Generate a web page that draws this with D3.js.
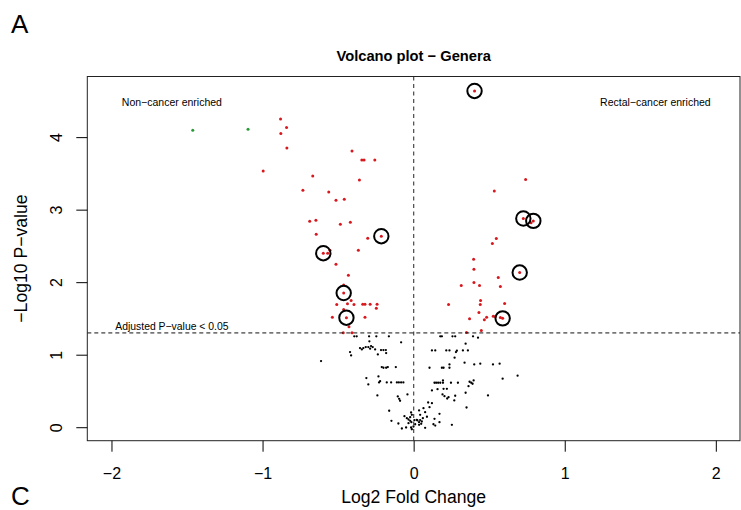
<!DOCTYPE html>
<html>
<head>
<meta charset="utf-8">
<script src="https://cdn.jsdelivr.net/npm/d3@7"></script>
<style>
  body { margin: 0; background: #fff; }
  svg { display: block; }
  text { font-family: "Liberation Sans", Arial, Helvetica, sans-serif; fill: #000; }
</style>
</head>
<body>
<svg id="chart" width="741" height="510"></svg>
<script>
// Genera that do not pass the adjusted threshold (log2 fold change, -log10 p)
const nsLfc = [
  -0.393,-0.377,-0.295,-0.247,-0.164,-0.293,-0.083,-0.355,-0.343,-0.333,
  -0.317,-0.300,-0.282,-0.271,-0.288,-0.255,-0.216,-0.200,-0.184,-0.237,
  -0.182,-0.421,-0.414,-0.613,-0.211,-0.200,-0.182,-0.171,-0.118,-0.313,
  -0.300,-0.233,-0.222,-0.229,-0.178,-0.149,-0.111,-0.098,-0.083,-0.068,
  -0.240,-0.105,-0.096,-0.090,-0.041,-0.162,-0.017,-0.012,-0.147,-0.101,
  -0.061,-0.045,-0.034,-0.023,-0.078,-0.050,-0.017,-0.001,0.010,0.025,0.036,
  0.176,0.187,0.257,0.275,0.393,0.426,0.344,0.121,0.143,0.216,
  0.237,0.286,0.280,0.326,0.359,0.271,0.337,0.105,0.187,0.198,
  0.237,0.237,0.401,0.441,0.525,0.569,0.589,0.688,0.138,0.149,
  0.162,0.176,0.194,0.194,0.247,0.293,0.370,0.381,0.397,0.390,
  0.363,0.121,0.158,0.198,0.220,0.344,0.492,0.191,0.204,0.231,
  0.222,0.275,0.269,0.121,0.105,0.096,0.065,0.076,0.036,0.043,
  0.171,0.350,0.088,0.021,0.054,0.061,0.043,0.036,0.050,0.131,
  0.143,0.138,0.171,0.253,-0.012,0.076,0.005,-0.023,-0.034,-0.015
];
const nsLogP = [
  1.253,1.253,1.253,1.253,1.253,1.184,1.170,1.091,1.073,1.091,
  1.105,1.105,1.119,1.105,1.083,1.073,1.064,1.064,1.064,1.004,
  1.022,1.036,0.990,0.912,0.829,0.820,0.820,0.829,0.829,0.677,
  0.590,0.700,0.635,0.617,0.617,0.617,0.617,0.617,0.617,0.617,
  0.438,0.424,0.392,0.365,0.452,0.227,0.203,0.171,0.088,0.051,
  0.152,0.124,0.106,0.088,-0.018,-0.004,-0.004,0.010,0.041,0.093,0.069,
  1.253,1.253,1.253,1.253,1.253,1.235,1.152,1.059,1.059,1.059,
  1.059,1.055,1.036,1.059,1.059,0.959,0.890,0.820,0.820,0.820,
  0.866,0.820,0.866,0.876,0.866,0.876,0.669,0.710,0.613,0.613,
  0.613,0.613,0.645,0.613,0.613,0.613,0.627,0.613,0.645,0.599,
  0.566,0.507,0.525,0.530,0.530,0.475,0.438,0.452,0.428,0.414,
  0.396,0.434,0.369,0.331,0.276,0.341,0.262,0.207,0.231,0.171,
  0.185,0.272,0.144,0.102,0.079,0.124,0.099,0.033,0.047,0.041,
  0.023,0.116,0.069,0.033,-0.028,-0.008,0.097,0.138,0.055,0.069
];

// Significant genera; sigCircled flags the ones singled out with a ring
const sigLfc = [
  -0.881,-0.841,-0.879,-0.839,-0.996,-0.668,-0.408,-0.343,-0.328,-0.257,
  -0.359,-0.733,-0.562,-0.514,-0.459,-0.688,-0.647,-0.485,-0.419,-0.645,
  -0.304,-0.214,-0.598,-0.569,-0.554,-0.366,-0.514,-0.432,-0.463,-0.463,
  -0.414,-0.509,-0.438,-0.395,-0.337,-0.322,-0.288,-0.242,-0.247,-0.463,
  -0.538,-0.445,-0.322,-0.428,-0.466,-0.408,
  0.403,0.741,0.534,0.726,0.792,0.777,0.547,0.521,0.397,0.399,
  0.702,0.560,0.315,0.399,0.436,0.574,0.443,0.441,0.231,0.602,
  0.432,0.370,0.483,0.468,0.527,0.540,0.574,0.589,0.448,0.350
];
const sigLogP = [
  4.250,4.133,4.050,3.849,3.532,3.463,3.808,3.683,3.683,3.683,
  3.408,3.269,3.242,3.131,3.145,2.841,2.855,2.800,2.827,2.662,
  2.606,2.634,2.399,2.399,2.441,2.441,2.247,2.095,1.961,1.850,
  1.746,1.691,1.702,1.691,1.695,1.695,1.695,1.695,1.640,1.622,
  1.515,1.510,1.515,1.384,1.304,1.304,
  4.637,3.417,3.256,2.878,2.845,2.818,2.602,2.533,2.316,2.178,
  2.133,2.065,1.954,1.994,1.954,1.941,1.747,1.692,1.692,1.706,
  1.581,1.497,1.515,1.483,1.529,1.526,1.512,1.501,1.333,1.305
];
const sigCircled = [
  0,0,0,0,0,0,0,0,0,0,
  0,0,0,0,0,0,0,0,0,0,
  0,1,1,0,0,0,0,0,0,1,
  0,0,0,0,0,0,0,0,0,0,
  0,1,0,0,0,0,
  1,0,0,1,1,0,0,0,0,0,
  1,0,0,0,0,0,0,0,0,0,
  0,0,0,0,0,0,0,1,0,0
];

// Strongly depleted genera
const depLfc = [-1.462, -1.096];
const depLogP = [4.094, 4.108];

const xTicks = [-2, -1, 0, 1, 2];
const yTicks = [0, 1, 2, 3, 4];
const pThreshold = 1.3;   // -log10(0.05)
const xLimit = [-2, 2];
const yLimit = [0, 4.65];

const svg = d3.select("#chart");
const plotLeft = 87.3, plotRight = 740, plotTop = 76.5, plotBottom = 440.7;

// R-style 4% padding around the limits
const padX = (xLimit[1] - xLimit[0]) * 0.04;
const padY = (yLimit[1] - yLimit[0]) * 0.04;
const x = d3.scaleLinear().domain([xLimit[0] - padX, xLimit[1] + padX]).range([plotLeft, plotRight]);
const y = d3.scaleLinear().domain([yLimit[0] - padY, yLimit[1] + padY]).range([plotBottom, plotTop]);

const toRows = (xs, ys) => xs.map((v, i) => ({ lfc: v, logp: ys[i] }));
const nsRows = toRows(nsLfc, nsLogP);
const sigRows = sigLfc.map((v, i) => ({ lfc: v, logp: sigLogP[i], ring: sigCircled[i] === 1 }));
const depRows = toRows(depLfc, depLogP);

const plot = svg.append("g");

// points
plot.selectAll("circle.ns").data(nsRows).join("circle")
  .attr("class", "ns")
  .attr("cx", d => x(d.lfc)).attr("cy", d => y(d.logp))
  .attr("r", 1.15).attr("fill", "#000");

plot.selectAll("circle.sig").data(sigRows).join("circle")
  .attr("class", "sig")
  .attr("cx", d => x(d.lfc)).attr("cy", d => y(d.logp))
  .attr("r", 1.5).attr("fill", "#d7191f");

plot.selectAll("circle.dep").data(depRows).join("circle")
  .attr("class", "dep")
  .attr("cx", d => x(d.lfc)).attr("cy", d => y(d.logp))
  .attr("r", 1.5).attr("fill", "#2a9a38");

// reference lines
plot.append("line")
  .attr("x1", x(0)).attr("x2", x(0))
  .attr("y1", plotTop).attr("y2", plotBottom)
  .attr("stroke", "#555").attr("stroke-width", 1.3)
  .attr("stroke-dasharray", "4,3.5");

plot.append("line")
  .attr("x1", plotLeft).attr("x2", plotRight)
  .attr("y1", y(pThreshold)).attr("y2", y(pThreshold))
  .attr("stroke", "#111").attr("stroke-width", 1)
  .attr("stroke-dasharray", "4,3");

// rings around highlighted genera
plot.selectAll("circle.ring").data(sigRows.filter(d => d.ring)).join("circle")
  .attr("class", "ring")
  .attr("cx", d => x(d.lfc)).attr("cy", d => y(d.logp))
  .attr("r", 7.2).attr("fill", "none")
  .attr("stroke", "#000").attr("stroke-width", 2);

// frame
svg.append("rect")
  .attr("x", plotLeft).attr("y", plotTop)
  .attr("width", plotRight - plotLeft).attr("height", plotBottom - plotTop)
  .attr("fill", "none").attr("stroke", "#222").attr("stroke-width", 1);

// axes
const fmt = d3.format("d");
const xAxis = svg.append("g")
  .attr("transform", `translate(0,${plotBottom})`)
  .call(d3.axisBottom(x).tickValues(xTicks).tickFormat(fmt).tickSize(11).tickSizeOuter(0).tickPadding(16));
xAxis.select(".domain").remove();
xAxis.selectAll(".tick line").attr("stroke", "#000");
xAxis.selectAll(".tick text")
  .attr("font-size", 16).attr("font-family", "Liberation Sans, Arial, sans-serif")
  .attr("fill", "#000");

const yAxis = svg.append("g")
  .attr("transform", `translate(${plotLeft},0)`)
  .call(d3.axisLeft(y).tickValues(yTicks).tickFormat(fmt).tickSize(11).tickSizeOuter(0));
yAxis.select(".domain").remove();
yAxis.selectAll(".tick line").attr("stroke", "#000");
yAxis.selectAll(".tick text")
  .attr("x", null).attr("dy", null)
  .attr("transform", "translate(-25,0) rotate(-90)")
  .attr("text-anchor", "middle")
  .attr("font-size", 16).attr("font-family", "Liberation Sans, Arial, sans-serif")
  .attr("fill", "#000");

// titles
svg.append("text")
  .attr("x", (plotLeft + plotRight) / 2).attr("y", 61)
  .attr("text-anchor", "middle").attr("font-size", 14.7).attr("font-weight", "bold")
  .text("Volcano plot \u2212 Genera");

svg.append("text")
  .attr("x", (plotLeft + plotRight) / 2).attr("y", 503)
  .attr("text-anchor", "middle").attr("font-size", 17.6)
  .text("Log2 Fold Change");

svg.append("text")
  .attr("transform", `translate(27,${(plotTop + plotBottom) / 2}) rotate(-90)`)
  .attr("text-anchor", "middle").attr("font-size", 17.6)
  .text("\u2212Log10 P\u2212value");

// annotations inside the plot
svg.append("text")
  .attr("x", x(-1.6)).attr("y", y(4.475)).attr("dy", "0.36em")
  .attr("text-anchor", "middle").attr("font-size", 10.5)
  .text("Non\u2212cancer enriched");

svg.append("text")
  .attr("x", x(1.6)).attr("y", y(4.475)).attr("dy", "0.36em")
  .attr("text-anchor", "middle").attr("font-size", 10.5)
  .text("Rectal\u2212cancer enriched");

svg.append("text")
  .attr("x", x(-1.6)).attr("y", y(1.39)).attr("dy", "0.36em")
  .attr("text-anchor", "middle").attr("font-size", 10.4)
  .text("Adjusted P\u2212value < 0.05");

// panel letters
svg.append("text").attr("x", 11).attr("y", 33).attr("font-size", 26).text("A");
svg.append("text").attr("x", 11).attr("y", 505).attr("font-size", 26).text("C");
</script>
</body>
</html>
